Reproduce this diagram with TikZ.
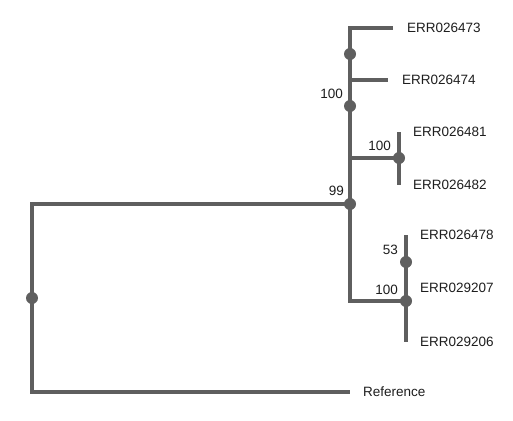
\documentclass[tikz,border=0pt]{standalone}
\usepackage{fontspec}
\setmainfont{Liberation Sans}
\definecolor{branch}{HTML}{5F5F5F}
\definecolor{txt}{HTML}{1E1E1E}
\begin{document}
\begin{tikzpicture}[x=1pt,y=-1pt,
  br/.style={draw=branch,line width=3.3pt},
  dot/.style={circle,fill=branch,inner sep=0pt,minimum size=12pt},
  leaf/.style={anchor=west,text=txt,font=\fontsize{13.5}{15}\selectfont,inner sep=0pt},
  sup/.style={anchor=east,text=txt,font=\fontsize{13.5}{15}\selectfont,inner sep=0pt}]
\useasboundingbox[fill=white] (0,0) rectangle (513,420);
% internal nodes
\coordinate (root) at (32,298);
\coordinate (n99) at (350,204);
\coordinate (nA) at (350,106);
\coordinate (nB) at (350,54);
\coordinate (nC) at (399,158);
\coordinate (nD) at (406,301);
\coordinate (nE) at (406,262);
% tips
\coordinate (t473) at (393,28);
\coordinate (t474) at (388,80);
\coordinate (t481) at (399,132);
\coordinate (t482) at (399,185);
\coordinate (t478) at (406,235);
\coordinate (t207) at (406,288);
\coordinate (t206) at (406,342);
\coordinate (tref) at (350,392);
% branches
\draw[br] (root) |- (n99);
\draw[br] (root) |- (tref);
\draw[br] (n99) |- (nA);
\draw[br] (n99) |- (nD);
\draw[br] (nA) |- (nB);
\draw[br] (nA) |- (nC);
\draw[br] (nB) |- (t473);
\draw[br] (nB) |- (t474);
\draw[br] (nC) -- (t481);
\draw[br] (nC) -- (t482);
\draw[br] (nD) -- (nE);
\draw[br] (nD) -- (t206);
\draw[br] (nE) -- (t478);
\draw[br] (nE) -- (t207);
% dots
\foreach \n in {root,n99,nA,nB,nC,nD,nE} \node[dot] (d\n) at (\n) {};
% support values
\node[sup] (s99) at ([xshift=-6pt,yshift=13pt]n99) {99};
\node[sup] (sA) at ([xshift=-7pt,yshift=12pt]nA) {100};
\node[sup] (sC) at ([xshift=-8pt,yshift=12pt]nC) {100};
\node[sup] (sE) at ([xshift=-8pt,yshift=12pt]nE) {53};
\node[sup] (sD) at ([xshift=-8pt,yshift=11pt]nD) {100};
% leaf labels
\node[leaf] (l473) at ([xshift=14pt]t473) {ERR026473};
\node[leaf] (l474) at ([xshift=14pt]t474) {ERR026474};
\node[leaf] (l481) at ([xshift=14pt]t481) {ERR026481};
\node[leaf] (l482) at ([xshift=14pt]t482) {ERR026482};
\node[leaf] (l478) at ([xshift=14pt]t478) {ERR026478};
\node[leaf] (l207) at ([xshift=14pt]t207) {ERR029207};
\node[leaf] (l206) at ([xshift=14pt]t206) {ERR029206};
\node[leaf] (lref) at ([xshift=13pt]tref) {Reference};
\end{tikzpicture}
\end{document}
